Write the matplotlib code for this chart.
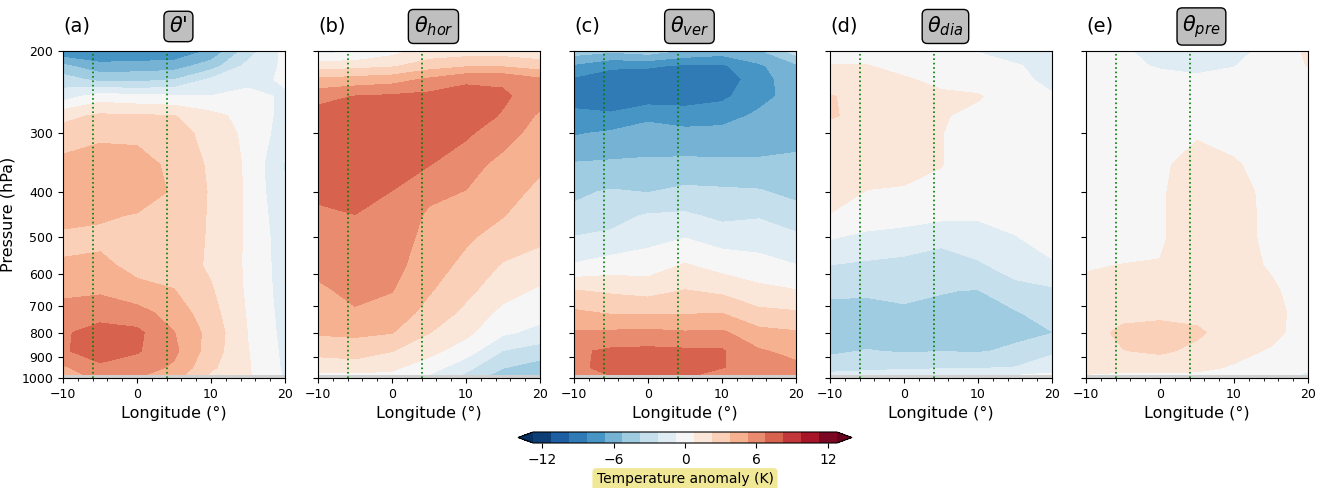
import numpy as np
import matplotlib.pyplot as plt
from matplotlib.ticker import NullLocator, MultipleLocator, FixedLocator, FixedFormatter

lons = [-10, -5, 0, 5, 10, 15, 20]
pressures = [200, 215, 230, 250, 275, 300, 350, 400, 450, 500, 575, 650, 725, 800, 875, 950, 985]

# every inner list is one longitude column (lon -10 ... 20), 200 hPa at top down to 985 hPa
theta_total = [
    [-8.0, -5.0, -3.0, -1.5, 1.8, 2.9, 4.2, 4.6, 4.3, 3.4, 3.9, 4.8, 6.0, 6.6, 6.5, 5.0, 4.5],
    [-8.5, -6.2, -4.3, 0.0, 2.5, 3.3, 4.8, 5.0, 4.0, 3.3, 4.2, 5.0, 6.3, 7.2, 7.8, 6.3, 5.8],
    [-8.5, -6.0, -4.3, -0.3, 2.4, 3.3, 4.5, 4.8, 3.6, 3.1, 3.2, 4.3, 5.8, 7.1, 6.9, 6.0, 5.5],
    [-8.0, -6.0, -3.8, -0.5, 2.3, 3.0, 3.3, 3.5, 3.2, 3.0, 3.1, 3.8, 4.6, 5.3, 5.6, 5.0, 4.4],
    [-6.5, -4.5, -2.0, -0.7, 1.2, 1.6, 2.0, 2.1, 2.1, 2.1, 2.0, 2.4, 2.8, 3.2, 3.0, 2.5, 2.0],
    [-3.0, -1.8, -1.1, -0.4, 0.2, 0.4, 0.5, 0.5, 0.5, 0.5, 0.5, 0.5, 0.6, 0.7, 0.8, 0.9, 0.9],
    [-0.3, -0.5, -0.6, -0.9, -1.2, -1.5, -2.4, -2.1, -1.8, -1.6, -1.5, -1.4, -1.3, -1.2, -1.1, -1.0, -0.9],
]
theta_hor = [
    [-1.2, 1.5, 4.0, 6.3, 7.3, 7.5, 7.5, 7.0, 6.5, 6.2, 5.6, 5.0, 4.5, 3.9, 2.8, 1.2, 0.5],
    [-1.0, 1.7, 4.3, 6.8, 7.6, 7.9, 8.0, 7.6, 6.7, 6.4, 6.1, 5.6, 5.1, 4.0, 3.0, 1.4, 0.5],
    [0.2, 2.0, 4.6, 7.0, 7.8, 8.0, 7.6, 6.7, 6.3, 6.0, 5.7, 5.3, 4.7, 3.8, 2.3, 1.0, 0.5],
    [1.3, 3.0, 5.5, 7.2, 7.6, 7.4, 6.8, 5.6, 5.0, 4.8, 4.5, 3.9, 3.2, 2.3, 1.2, 0.0, -0.8],
    [1.5, 3.5, 6.5, 7.3, 7.6, 7.0, 5.8, 5.2, 4.6, 4.0, 3.3, 2.6, 1.9, 1.1, 0.0, -1.8, -2.5],
    [1.5, 3.5, 6.5, 7.0, 6.6, 5.8, 4.8, 4.3, 3.8, 3.1, 2.1, 1.4, 0.3, -0.5, -2.3, -3.7, -4.5],
    [1.2, 3.0, 5.5, 5.9, 5.0, 4.7, 4.0, 3.4, 2.9, 2.5, 1.7, 0.5, -0.2, -1.2, -3.0, -4.4, -4.8],
]
theta_ver = [
    [-4.5, -7.0, -8.5, -9.0, -7.8, -6.9, -5.1, -4.0, -3.4, -2.2, -0.6, 2.3, 4.0, 5.4, 6.5, 6.4, 6.0],
    [-5.0, -8.0, -9.0, -9.3, -8.0, -6.5, -5.0, -3.6, -2.7, -2.0, 0.0, 2.0, 3.6, 5.5, 7.0, 7.2, 6.8],
    [-4.5, -8.0, -9.5, -9.2, -7.0, -6.3, -4.9, -3.8, -2.1, -1.2, 0.0, 1.7, 3.6, 5.6, 7.1, 7.6, 7.0],
    [-5.5, -8.5, -9.5, -9.3, -7.2, -6.5, -4.8, -3.4, -2.0, -0.8, 0.9, 2.3, 3.6, 5.4, 7.0, 7.4, 7.0],
    [-6.0, -8.5, -9.3, -8.6, -7.3, -6.3, -4.9, -3.5, -2.6, -1.4, 0.2, 1.9, 3.7, 5.5, 6.9, 6.8, 6.2],
    [-5.5, -7.0, -7.3, -7.2, -6.5, -6.0, -5.0, -3.6, -2.4, -1.3, -0.3, 1.2, 2.6, 4.2, 5.4, 6.2, 6.0],
    [-3.0, -5.6, -6.0, -6.2, -6.1, -5.9, -4.8, -4.2, -3.0, -2.0, -0.7, 0.8, 2.4, 3.9, 4.8, 5.6, 5.8],
]
theta_dia = [
    [0.0, 0.8, 1.5, 2.3, 2.4, 1.6, 1.4, 1.2, 0.7, -0.6, -2.3, -3.5, -4.2, -4.3, -4.0, -3.0, -1.8],
    [0.0, 0.8, 1.3, 2.0, 1.8, 1.4, 1.3, 0.7, 0.3, -1.2, -2.5, -3.6, -4.1, -4.2, -3.7, -2.8, -1.5],
    [-0.2, 0.3, 0.9, 1.2, 1.3, 1.3, 1.2, 0.6, 0.1, -1.6, -2.6, -3.4, -4.0, -4.3, -3.9, -2.6, -1.2],
    [-0.3, 0.0, 0.4, 1.0, 0.9, 0.8, 0.8, 0.3, -0.4, -1.9, -2.9, -3.7, -4.0, -4.2, -3.8, -2.5, -1.0],
    [-0.8, -0.3, 0.0, 0.9, 0.3, 0.0, -0.1, -0.2, -0.6, -1.3, -2.5, -3.8, -4.2, -4.5, -3.9, -2.4, -1.0],
    [-1.5, -0.6, -0.3, -0.1, 0.0, 0.0, -0.1, -0.2, -0.4, -0.8, -1.6, -2.8, -3.9, -4.1, -3.5, -2.2, -0.8],
    [-1.5, -1.3, -1.2, -0.6, -0.3, -0.2, -0.2, -0.2, -0.2, -0.3, -0.9, -2.5, -3.0, -3.8, -2.5, -1.5, -0.5],
]
theta_pre = [
    [0.0, 0.0, 0.0, 0.0, 0.0, 0.0, 0.0, 0.0, 0.0, 0.0, 0.6, 1.2, 1.4, 1.6, 1.7, 1.2, 0.7],
    [-0.6, -0.4, 0.0, 0.0, 0.0, 0.0, 0.0, 0.0, 0.0, 0.0, 0.8, 1.4, 1.8, 2.6, 2.2, 1.2, 0.5],
    [-1.2, -0.9, -0.3, 0.0, 0.1, 0.2, 0.5, 0.6, 0.6, 0.6, 0.8, 1.2, 1.9, 2.8, 2.5, 1.3, 0.5],
    [-1.4, -1.1, -0.5, -0.2, 0.2, 0.6, 1.3, 1.4, 1.4, 1.4, 1.3, 1.4, 1.8, 2.5, 1.9, 1.1, 0.5],
    [-1.2, -0.8, -0.3, 0.0, 0.0, 0.3, 0.9, 1.2, 1.3, 1.3, 1.3, 1.5, 1.6, 1.5, 1.2, 0.6, 0.3],
    [-0.3, 0.0, 0.0, 0.0, 0.0, 0.0, 0.2, 0.4, 0.4, 0.4, 0.6, 1.0, 1.3, 1.2, 0.6, 0.2, 0.0],
    [1.0, 0.8, 0.2, 0.0, 0.0, 0.0, 0.0, 0.0, 0.0, 0.0, 0.0, 0.0, 0.0, 0.0, 0.0, -0.5, -1.0],
]

fields = [theta_total, theta_hor, theta_ver, theta_dia, theta_pre]
panel_tags = ['(a)', '(b)', '(c)', '(d)', '(e)']
panel_titles = [r"$\theta$'", r'$\theta_{hor}$', r'$\theta_{ver}$', r'$\theta_{dia}$', r'$\theta_{pre}$']
box_lons = [-6, 4]

levels = np.arange(-12.75, 12.76, 1.5)
ytick_vals = [200, 300, 400, 500, 600, 700, 800, 900, 1000]

fig = plt.figure(figsize=(13.36, 4.88), dpi=100)

ax_w = 222 / 1336
ax_h = 327 / 488
ax_bottom = 1 - 378 / 488
lefts = [63, 318, 574, 830, 1086]

for i, field in enumerate(fields):
    ax = fig.add_axes([lefts[i] / 1336, ax_bottom, ax_w, ax_h])
    ax.set_facecolor('#d0d0d0')
    z = np.array(field).T
    cf = ax.contourf(lons, pressures, z, levels=levels, cmap='RdBu_r', extend='both')
    for bl in box_lons:
        ax.axvline(bl, color='green', linestyle=':', linewidth=1.2)

    ax.set_yscale('log')
    ax.set_ylim(1000, 200)
    ax.yaxis.set_major_locator(FixedLocator(ytick_vals))
    ax.yaxis.set_minor_locator(NullLocator())
    if i == 0:
        ax.yaxis.set_major_formatter(FixedFormatter([str(v) for v in ytick_vals]))
        ax.set_ylabel('Pressure (hPa)', fontsize=11.5)
    else:
        ax.yaxis.set_major_formatter(FixedFormatter([''] * len(ytick_vals)))
    ax.set_xlim(-10, 20)
    ax.xaxis.set_major_locator(MultipleLocator(10))
    ax.xaxis.set_minor_locator(MultipleLocator(2))
    ax.tick_params(labelsize=9)
    ax.set_xlabel('Longitude (°)', fontsize=11.5)

    ax.text(0.0, 1.075, panel_tags[i], transform=ax.transAxes, fontsize=14,
            ha='left', va='center')
    ax.text(0.52, 1.075, panel_titles[i], transform=ax.transAxes, fontsize=15,
            ha='center', va='center',
            bbox=dict(boxstyle='round,pad=0.25', facecolor='#bfbfbf', edgecolor='black'))

cax = fig.add_axes([518 / 1336, 1 - 443 / 488, 334 / 1336, 11 / 488])
cb = fig.colorbar(cf, cax=cax, orientation='horizontal', ticks=[-12, -6, 0, 6, 12])
cb.ax.tick_params(labelsize=10)
cb.set_label('Temperature anomaly (K)', fontsize=10,
             bbox=dict(boxstyle='round,pad=0.3', facecolor='khaki', edgecolor='none', alpha=0.9))

fig.savefig('out.png', dpi=100)
